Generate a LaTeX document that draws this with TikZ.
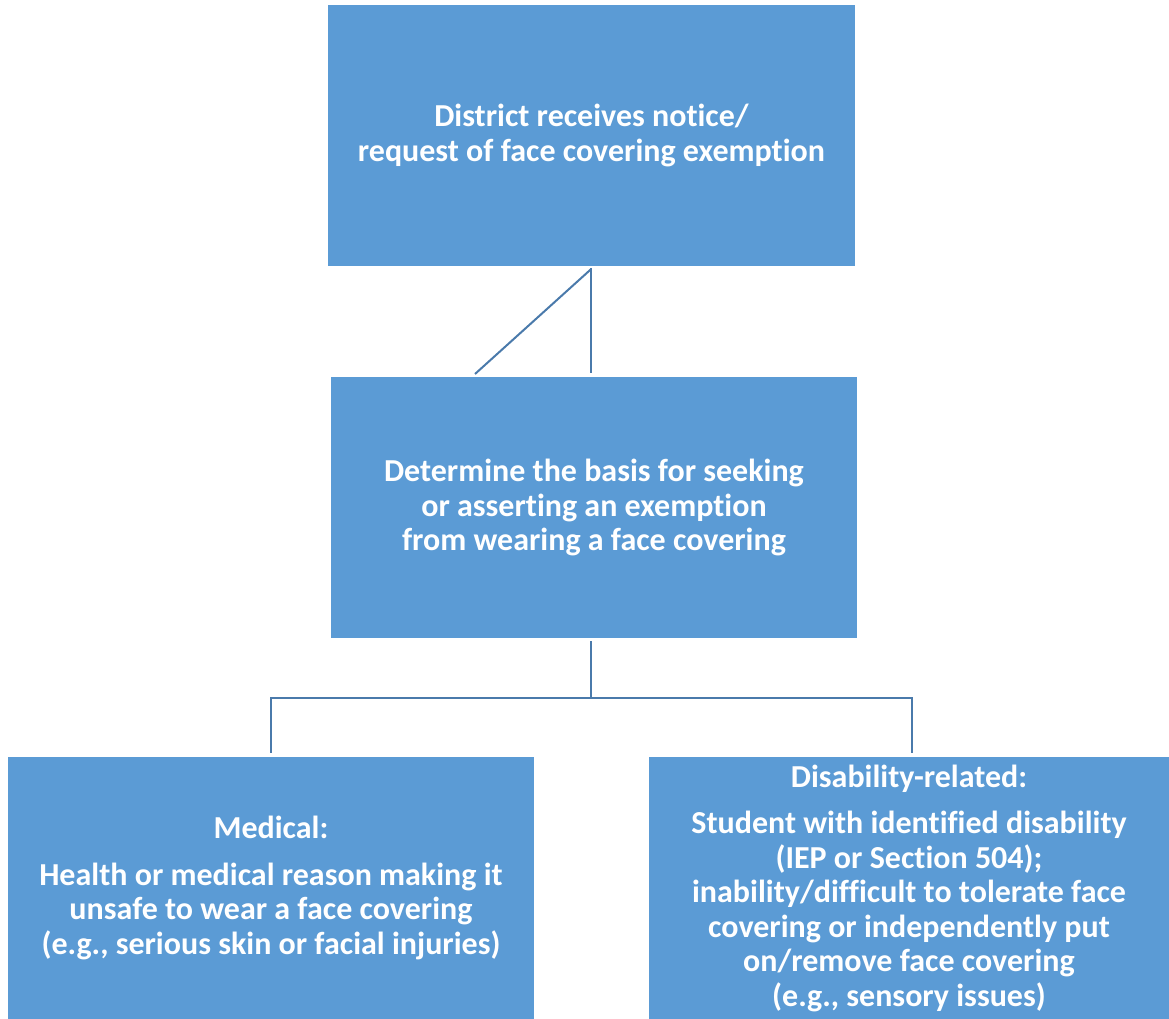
\documentclass[tikz,border=0pt]{standalone}
\usepackage{fontspec}
\setmainfont{Carlito}[Ligatures=NoCommon]
\definecolor{boxfill}{HTML}{5B9BD5}
\definecolor{connc}{HTML}{4A7AAB}
\begin{document}
\begin{tikzpicture}[x=1pt,y=-1pt,
  box/.style={rectangle, fill=boxfill, draw=none, text=white, align=center,
    font=\bfseries\fontsize{32}{34.5}\selectfont, inner sep=0pt},
  conn/.style={draw=connc, line width=2pt}]
\useasboundingbox (0,0) rectangle (1169,1019);
\node[box, minimum width=527pt, minimum height=261pt] (A) at (591.5,135.5)
  {District receives notice/\\request of face covering exemption};
\node[box, minimum width=526pt, minimum height=261pt] (B) at (594,507.5)
  {Determine the basis for seeking\\or asserting an exemption\\from wearing a face covering};
\node[box, minimum width=526pt, minimum height=262pt] (C) at (271,888)
  {Medical:\\[12pt]Health or medical reason making it\\unsafe to wear a face covering\\(e.g., serious skin or facial injuries)};
\node[box, minimum width=520pt, minimum height=262pt] (D) at (909,888)
  {Disability-related:\\[12pt]Student with identified disability\\(IEP or Section 504);\\inability/difficult to tolerate face\\covering or independently put\\on/remove face covering\\(e.g., sensory issues)};
\coordinate (j) at (591,698);
\coordinate (d) at (475,374);
\draw[conn] ([yshift=-2pt]A.south -| j) -- ([yshift=4pt]B.north -| j);
\draw[conn] ([yshift=-3pt]A.south -| j) -- (d);
\draw[conn] ([yshift=-3pt]B.south -| j) -- (j);
\draw[conn] ([yshift=4pt]C.north) |- (j) -| ([yshift=4pt,xshift=3pt]D.north);
\end{tikzpicture}
\end{document}
